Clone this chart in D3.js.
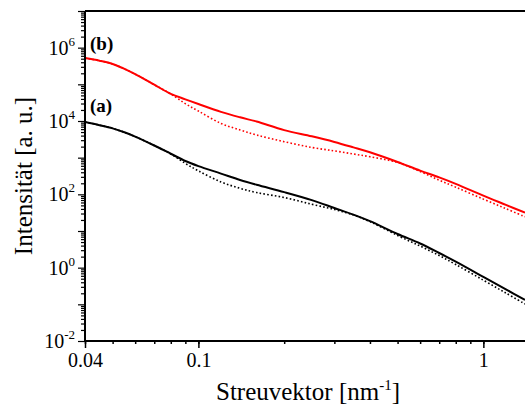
<!DOCTYPE html>
<html>
<head>
<meta charset="utf-8">
<script src="https://cdn.jsdelivr.net/npm/d3@7/dist/d3.min.js"></script>
<style>
  html, body { margin: 0; padding: 0; background: #fff; }
  svg { display: block; }
</style>
</head>
<body>
<svg id="chart" width="525" height="407"></svg>
<script>
// Scattering vector q [nm^-1]
const q = [0.04, 0.045, 0.05, 0.055, 0.06, 0.07, 0.08, 0.09, 0.1, 0.12, 0.14, 0.16,
           0.2, 0.25, 0.3, 0.35, 0.4, 0.5, 0.6, 0.7, 0.8, 1.0, 1.2, 1.4];

// Sample (b): measured (solid) and model (dotted)
const bSolid = [5.2e5, 4.4e5, 3.6e5, 2.65e5, 1.9e5, 9.8e4, 5.5e4, 3.9e4, 2.9e4, 1.77e4, 1.26e4, 9.7e3,
                5.65e3, 3.83e3, 2.69e3, 1.91e3, 1.40e3, 762, 442, 290, 193, 91.8, 51.5, 31.6];
const bDotted = [5.2e5, 4.4e5, 3.6e5, 2.65e5, 1.9e5, 9.8e4, 5.46e4, 2.97e4, 1.87e4, 8.6e3, 5.7e3, 4.15e3,
                 2.73e3, 1.90e3, 1.53e3, 1.26e3, 1.06e3, 739, 420, 243, 157, 74, 40.6, 24.5];

// Sample (a): measured (solid) and model (dotted)
const aSolid = [9.4e3, 7.7e3, 6.3e3, 4.92e3, 3.76e3, 2.15e3, 1.28e3, 811, 589, 368, 246, 182,
                115, 69.7, 42.5, 27.9, 18.5, 8.3, 4.57, 2.51, 1.46, 0.561, 0.256, 0.132];
const aDotted = [9.4e3, 7.7e3, 6.3e3, 4.92e3, 3.76e3, 2.15e3, 1.26e3, 698, 436, 218, 146, 112,
                 82, 53.6, 38.6, 27.4, 18.0, 7.55, 3.88, 2.14, 1.22, 0.456, 0.203, 0.102];

// Axis ticks
const xMajor = [0.04, 0.1, 1];
const xMajorLabels = ["0.04", "0.1", "1"];
const yDecades = [-2, -1, 0, 1, 2, 3, 4, 5, 6, 7];
const yLabelExps = [-2, 0, 2, 4, 6];

const FONT = "'Liberation Serif', 'Times New Roman', Times, serif";

const svg = d3.select("#chart");
const mLeft = 85, mRight = 525, mTop = 11, mBottom = 341;

const x = d3.scaleLog().domain([0.04, 1.4]).range([mLeft, mRight]);
const y = d3.scaleLog().domain([1e-2, 1e7]).range([mBottom, mTop]);

const plot = svg.append("g");
plot.append("clipPath").attr("id", "clip")
  .append("rect").attr("x", mLeft).attr("y", mTop).attr("width", mRight - mLeft).attr("height", mBottom - mTop);

const line = d3.line().x(d => x(d[0])).y(d => y(d[1])).curve(d3.curveCatmullRom.alpha(0.5));
const series = [
  { v: bDotted, color: "#ff0000", dash: "1.6,2.2", w: 1.6 },
  { v: aDotted, color: "#000000", dash: "1.6,2.2", w: 1.6 },
  { v: bSolid, color: "#ff0000", dash: null, w: 2 },
  { v: aSolid, color: "#000000", dash: null, w: 2 }
];
series.forEach(s => {
  plot.append("path")
    .datum(q.map((qq, i) => [qq, s.v[i]]))
    .attr("clip-path", "url(#clip)")
    .attr("fill", "none")
    .attr("stroke", s.color)
    .attr("stroke-width", s.w)
    .attr("stroke-dasharray", s.dash)
    .attr("d", line);
});

// X axis: minor ticks at every mantissa, long ticks at labelled values
const xMinor = [];
[0.01, 0.1, 1].forEach(d => { for (let m = 1; m <= 9; m++) { const v = m * d; if (v >= 0.04 && v <= 1.4) xMinor.push(v); } });
const xAxisMinor = d3.axisBottom(x).tickValues(xMinor).tickSize(3).tickFormat("");
const xAxisMajor = d3.axisBottom(x).tickValues(xMajor).tickSize(7).tickFormat((d, i) => xMajorLabels[i]).tickPadding(5);
const gx1 = svg.append("g").attr("transform", `translate(0,${mBottom})`).call(xAxisMinor);
const gx2 = svg.append("g").attr("transform", `translate(0,${mBottom})`).call(xAxisMajor);
[gx1, gx2].forEach(g => {
  g.select(".domain").remove();
  g.selectAll("line").attr("stroke", "#000").attr("stroke-width", 1.5);
});
gx2.attr("font-family", null).attr("font-size", null);
gx2.selectAll("text").style("font-family", FONT).style("font-size", "20px").attr("fill", "#000");

// Y axis: decade ticks plus minor ticks 2..9
const yMinor = [];
yDecades.forEach(e => { for (let m = 2; m <= 9; m++) { const v = m * Math.pow(10, e); if (v <= 1e7) yMinor.push(v); } });
const yAxisMinor = d3.axisLeft(y).tickValues(yMinor).tickSize(4).tickFormat("");
const yAxisMajor = d3.axisLeft(y).tickValues(yDecades.map(e => Math.pow(10, e))).tickSize(7).tickFormat("");
const gy1 = svg.append("g").attr("transform", `translate(${mLeft},0)`).call(yAxisMinor);
const gy2 = svg.append("g").attr("transform", `translate(${mLeft},0)`).call(yAxisMajor);
[gy1, gy2].forEach(g => {
  g.select(".domain").remove();
  g.selectAll("line").attr("stroke", "#000").attr("stroke-width", 1.2);
});

// Decade labels with superscript exponents
yLabelExps.forEach(e => {
  const t = svg.append("text")
    .attr("x", mLeft - 10)
    .attr("y", y(Math.pow(10, e)) + 7)
    .attr("text-anchor", "end")
    .style("font-family", FONT)
    .style("font-size", "20px");
  t.append("tspan").text("10");
  t.append("tspan").attr("dy", -9).style("font-size", "13px").text(String(e));
});

// Frame lines: left, bottom and top
svg.append("line").attr("x1", mLeft).attr("x2", mLeft).attr("y1", mTop).attr("y2", mBottom)
  .attr("stroke", "#000").attr("stroke-width", 2);
svg.append("line").attr("x1", mLeft).attr("x2", mRight).attr("y1", mBottom).attr("y2", mBottom)
  .attr("stroke", "#000").attr("stroke-width", 2);
svg.append("line").attr("x1", mLeft).attr("x2", mRight).attr("y1", mTop).attr("y2", mTop)
  .attr("stroke", "#000").attr("stroke-width", 2);

// Sample labels
svg.append("text").attr("x", 90).attr("y", 50).style("font-family", FONT).style("font-size", "19px")
  .style("font-weight", "bold").text("(b)");
svg.append("text").attr("x", 90).attr("y", 112).style("font-family", FONT).style("font-size", "19px")
  .style("font-weight", "bold").text("(a)");

// Axis titles
const xt = svg.append("text").attr("x", 308).attr("y", 400).attr("text-anchor", "middle")
  .style("font-family", FONT).style("font-size", "25px");
xt.append("tspan").text("Streuvektor [nm");
xt.append("tspan").attr("dy", -10).style("font-size", "15px").text("-1");
xt.append("tspan").attr("dy", 10).text("]");

svg.append("text")
  .attr("transform", `translate(32,176) rotate(-90)`)
  .attr("text-anchor", "middle")
  .style("font-family", FONT)
  .style("font-size", "25px")
  .text("Intensität [a. u.]");
</script>
</body>
</html>
